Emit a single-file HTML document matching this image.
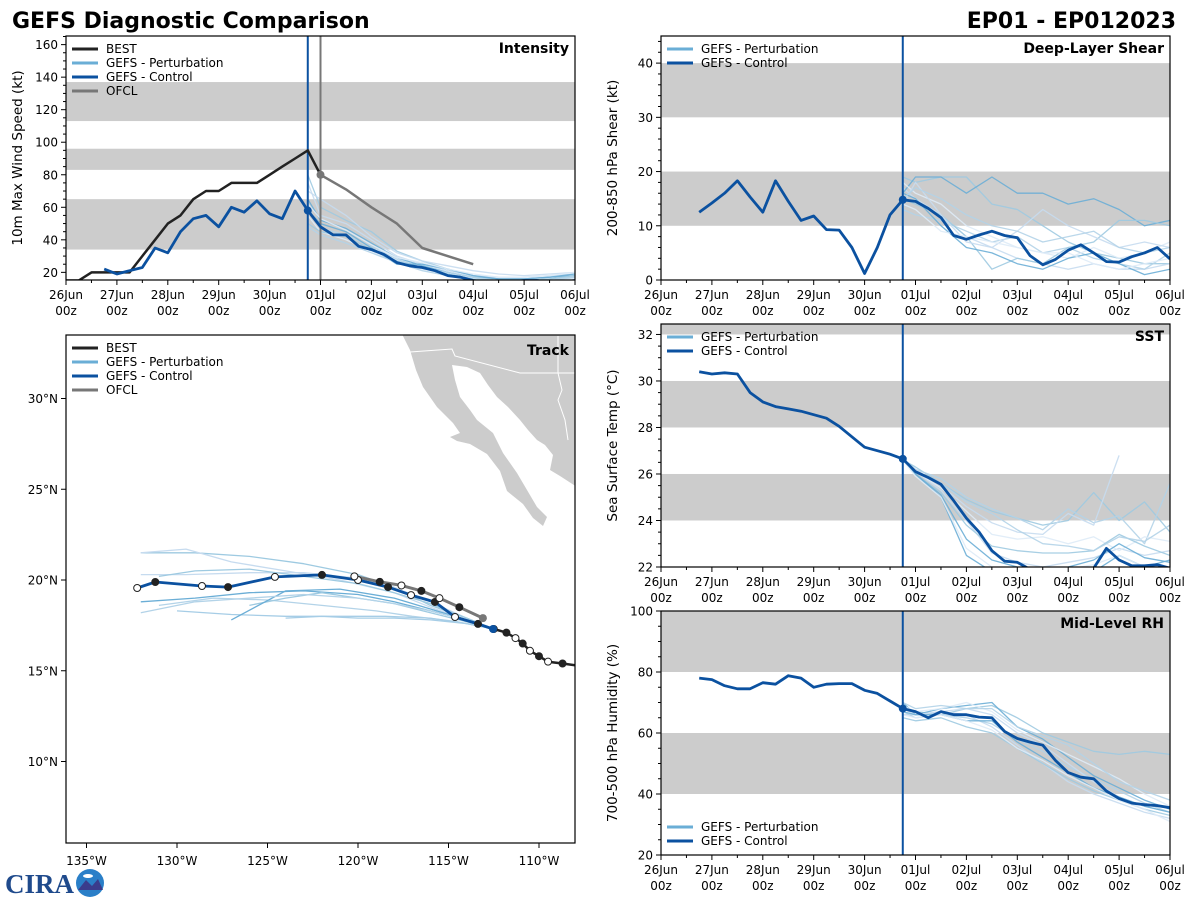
<!DOCTYPE html>
<html><head><meta charset="utf-8"><style>
html,body{margin:0;padding:0;background:#fff;}
svg{display:block;font-family:"DejaVu Sans","Liberation Sans",sans-serif;}
</style></head><body>
<svg id="fig" width="1200" height="900" viewBox="0 0 1200 900" xmlns="http://www.w3.org/2000/svg">
<text x="12" y="28" font-size="22" font-weight="bold">GEFS Diagnostic Comparison</text>
<text x="1176" y="28" font-size="22" font-weight="bold" text-anchor="end">EP01 - EP012023</text>
<g>
<text x="5" y="893" font-size="27" font-weight="bold" fill="#1f4a8c" font-family="Liberation Serif, serif">CIRA</text>
<circle cx="90" cy="883" r="14" fill="#2a7fc8"/>
<path d="M78,890 L86,880 L92,886 L98,879 L103,890 Z" fill="#3a3c8c"/>
<ellipse cx="88" cy="876" rx="5" ry="2" fill="#fff"/>
</g>
</svg>
<script>
const svg=document.getElementById('fig');
const NS='http://www.w3.org/2000/svg';
const BLUE='#0b51a0', LIGHT='#6aaed6', BEST='#222', OFCL='#777', BAND='#cccccc';
// ---------- DATA ----------
const dayLabels=['26Jun','27Jun','28Jun','29Jun','30Jun','01Jul','02Jul','03Jul','04Jul','05Jul','06Jul'];
const initHour=114;
const ofclInitHour=120;
const bestHours=[0,6,12,18,24,30,36,42,48,54,60,66,72,78,84,90,96,102,108,114,120];
const bestWind=[15,15,20,20,20,20,30,40,50,55,65,70,70,75,75,75,80,85,90,95,80];
const ctrlHours=[18,24,30,36,42,48,54,60,66,72,78,84,90,96,102,108,114,120,126,132,138,144,150,156,162,168,174,180,186,192,198,204,210,216,222,228,234,240];
const ctrlWind=[22,19,21,23,35,32,45,53,55,48,60,57,64,56,53,70,58,48,43,43,36,34,31,26,24,23,21,18,17,15,14,13,14,15,15,14,14,15];
const ofclHours=[120,132,144,156,168,192];
const ofclWind=[80,71,60,50,35,25];
const memHours=[114,120,132,144,156,168,180,192,204,216,228,240];
const windMembers=[
[80,60,52,45,33,27,22,18,16,15,15,16],
[75,55,50,40,30,25,21,18,17,17,18,19],
[65,52,47,38,29,24,20,17,16,16,17,18],
[60,47,43,36,28,23,20,17,15,15,16,17],
[55,45,40,33,26,22,19,16,15,15,15,16],
[50,45,42,34,27,23,19,16,15,15,16,18],
[70,65,55,42,32,27,24,21,19,18,19,20],
[58,50,45,35,25,25,22,18,16,16,17,19],
[48,43,38,32,26,21,18,15,14,14,15,17],
[62,53,46,37,29,26,22,19,17,17,18,20]];
const ctrlShear=[12.5,14.2,16,18.3,15.3,12.5,18.3,14.5,11,11.8,9.3,9.2,6,1.2,6,12,14.8,14.5,13.2,11.5,8.2,7.5,8.3,9.0,8.2,7.8,4.5,2.8,3.8,5.5,6.5,5,3.4,3.3,4.3,5,6,3.9];
const shearMembers=[
[19,18,19,19,14,13,10,7,5,4,3,3],
[17,15,12,8,6,4,3,2,3,2,2,3],
[16,19,19,16,19,16,16,14,15,13,10,11],
[13,12,11,9,7,8,5,6,4,3,2,5],
[18,16,14,10,8,6,5,4,6,4,5,7],
[15,14,12,8,2,4,3,6,7,11,11,10],
[14,18,12,7,6,9,13,10,8,6,7,6],
[16,15,10,6,5,3,2,4,5,3,1,2],
[15,17,15,12,10,9,7,8,9,6,5,6],
[14,13,9,8,7,6,5,5,3,2,3,4]];
const ctrlSST=[30.4,30.3,30.35,30.3,29.5,29.1,28.9,28.8,28.7,28.55,28.4,28.05,27.6,27.15,27.0,26.85,26.65,26.1,25.85,25.55,24.85,24.1,23.5,22.7,22.25,22.2,21.9,21.8,21.8,21.7,21.8,21.95,22.8,22.3,22.05,22.05,22.1,21.95];
const sstMembers=[
[26.6,26.3,25.6,24.9,24.4,24.1,23.8,24.0,25.2,24.0,24.8,23.5],
[26.6,26.1,25.3,24.0,22.6,22.2,22.0,22.2,22.4,22.8,22.5,22.7],
[26.6,26.0,25.0,22.5,21.8,21.5,21.5,21.5,21.8,22.5,22.0,22.3],
[26.6,26.2,25.8,25.0,24.5,24.1,23.6,24.5,23.9,24.2,23.0,25.6],
[26.6,26.1,25.4,24.4,23.4,23.2,23.3,23.0,23.3,22.7,23.3,23.1],
[26.6,26.0,25.2,23.8,22.9,22.7,22.6,22.6,22.7,23.4,22.9,22.5],
[26.6,26.2,25.5,24.6,23.9,23.5,23.4,24.3,23.8,26.8],
[26.6,26.0,25.1,23.2,22.3,22.0,21.8,22.0,22.3,23.0,22.4,22.2],
[26.6,26.1,25.6,24.8,24.3,23.6,23.0,22.9,22.7,23.3,23.1,23.8],
[26.6,25.9,25.0,22.8,22.0,21.8,21.7,21.9,22.1,22.5,22.0,22.0]];
const ctrlRH=[78,77.5,75.5,74.5,74.5,76.5,76,78.8,78,75,76,76.2,76.2,74,73,70.5,68,67,65,67,66,66,65.2,65,60.5,58.2,57,56,51,47,45.5,45,41,38.5,37,36.5,36.2,35.5];
const rhMembers=[
[68,67,66,68,69,65,60,57,54,53,54,53],
[66,66,67,66,62,56,50,44,40,37,34,32],
[70,66,68,69,70,62,58,52,46,42,38,35],
[67,65,66,65,63,58,54,49,45,41,37,34],
[69,67,68,70,67,61,57,53,49,45,40,36],
[65,64,65,62,60,55,50,45,41,38,35,33],
[68,66,67,68,66,60,56,50,44,39,36,34],
[67,66,66,64,64,57,52,47,42,39,36,34],
[70,68,69,68,68,62,59,56,50,44,41,38],
[66,65,66,64,61,55,51,46,42,38,35,31]];
// track (degrees W, degrees N)
const bestLon=[108.0,108.7,109.5,110.0,110.5,110.9,111.3,111.8,112.5];
const bestLat=[15.3,15.4,15.5,15.8,16.1,16.5,16.8,17.1,17.3];
const ctrlLon=[112.54,113.37,114.64,115.75,117.07,118.34,120.0,121.99,124.59,127.18,128.62,131.2,132.2];
const ctrlLat=[17.30,17.58,17.96,18.79,19.17,19.61,20.0,20.28,20.17,19.61,19.67,19.89,19.56];
const ofclLon=[113.1,114.4,115.5,116.5,117.6,118.8,120.2];
const ofclLat=[17.9,18.5,19.0,19.4,19.7,19.9,20.2];
const trackMemberLon=[
[112.5,114,116,118,120,123,126,129,132],
[112.5,114,116,118,121,124,127,129.5,132],
[112.5,114,116,118,120,123,126,129,132],
[112.5,114.5,117,119,122,125,128,131],
[112.5,114,116,118.5,121,124,127,130],
[112.5,114,116,118,120,122,124,126],
[112.5,114,116,118,120,123,126,129.5,132],
[112.5,114,116,118,121,124,127],
[112.5,114,116,118,120,123,126,129,132],
[112.5,114,116,118,120,122,124],
[112.5,114,116,118,120,123,126,129,131]];
const trackMemberLat=[
[17.3,17.9,18.6,19.6,20.3,20.9,21.3,21.5,21.5],
[17.3,17.8,18.5,19.3,20.0,20.5,21.0,21.7,21.5],
[17.3,17.8,18.3,18.8,19.2,19.4,19.3,19.0,18.8],
[17.3,17.7,18.0,18.3,18.6,18.9,19.0,18.6],
[17.3,17.6,17.9,18.0,18.0,18.0,18.1,18.3],
[17.3,17.7,18.2,18.7,19.0,19.3,19.0,18.6],
[17.3,17.9,18.8,19.6,20.1,20.4,20.4,20.3,20.3],
[17.3,17.8,18.4,19.0,19.5,19.4,17.8],
[17.3,17.8,18.3,18.7,19.0,19.2,19.0,18.8,18.2],
[17.3,17.6,17.8,17.9,17.9,18.0,17.9],
[17.3,17.9,18.7,19.3,19.8,20.2,20.6,20.5,20.2]];
const lonTicks=[135,130,125,120,115,110];
const latTicks=[30,25,20,15,10];

// ---------- helpers ----------
function el(tag,attrs,parent){const e=document.createElementNS(NS,tag);for(const k in attrs)e.setAttribute(k,attrs[k]);(parent||svg).appendChild(e);return e;}
function txt(s,attrs,parent){const e=el('text',attrs,parent);e.textContent=s;return e;}
let clipN=0;
function panel(cfg){
  const g=el('g',{});
  
  
  const X=h=>cfg.x0+h/240*(cfg.x1-cfg.x0);
  const Y=v=>cfg.y1-(v-cfg.ymin)/(cfg.ymax-cfg.ymin)*(cfg.y1-cfg.y0);
  const id='c'+(clipN++);
  const cp=el('clipPath',{id:id},g);
  el('rect',{x:cfg.x0,y:cfg.y0,width:cfg.x1-cfg.x0,height:cfg.y1-cfg.y0},cp);
  const pg=el('g',{'clip-path':'url(#'+id+')'},g);
  cfg.bands.forEach(b=>{const r=el('rect',{x:cfg.x0,y:Y(b[1]),width:cfg.x1-cfg.x0,height:Y(b[0])-Y(b[1]),fill:BAND},pg);
    });
  const line=(hs,vs,color,w,name,op)=>{const p=vs.map((v,i)=>X(hs[i]).toFixed(1)+','+Y(v).toFixed(1)).join(' ');
    const l=el('polyline',{points:p,fill:'none',stroke:color,'stroke-width':w,'stroke-linejoin':'round','stroke-opacity':op||1},pg);
    return l;};
  const shades=['#9ecae1','#c6dbef','#6baed6','#b3d3e8','#deebf7'];
  cfg.members.forEach((m,i)=>line(memHours.slice(0,m.length),m,shades[i%5],1.3,'perturbation-line',0.9));
  const vl=el('line',{x1:X(initHour),x2:X(initHour),y1:cfg.y0,y2:cfg.y1,stroke:BLUE,'stroke-width':2},pg);
  
  if(cfg.best){const gl=el('line',{x1:X(ofclInitHour),x2:X(ofclInitHour),y1:cfg.y0,y2:cfg.y1,stroke:OFCL,'stroke-width':2},pg);
    
    line(bestHours,cfg.best,BEST,2.5,'best-line');line(ofclHours,ofclWind,OFCL,2.5,'ofcl-line');
    const od=el('circle',{cx:X(ofclHours[0]),cy:Y(ofclWind[0]),r:4,fill:OFCL},pg);
    }
  line(ctrlHours,cfg.ctrl,BLUE,2.8,'control-line');
  const ci=ctrlHours.indexOf(initHour);
  const cd=el('circle',{cx:X(initHour),cy:Y(cfg.ctrl[ci]),r:4,fill:BLUE},pg);
  
  const fr=el('rect',{x:cfg.x0,y:cfg.y0,width:cfg.x1-cfg.x0,height:cfg.y1-cfg.y0,fill:'none',stroke:'#000','stroke-width':1.2},g);
  
  for(let h=0;h<=240;h+=12){const major=h%24==0;el('line',{x1:X(h),x2:X(h),y1:cfg.y1,y2:cfg.y1+(major?5:3),stroke:'#000'},g);}
  dayLabels.forEach((d,i)=>{const t=txt(d,{x:X(i*24),y:cfg.y1+19,'font-size':12,'text-anchor':'middle'},g);
    
    txt('00z',{x:X(i*24),y:cfg.y1+35,'font-size':12,'text-anchor':'middle'},g);});
  for(let v=Math.ceil(cfg.ymin/cfg.minor)*cfg.minor;v<=cfg.ymax+1e-6;v+=cfg.minor){const major=Math.abs(v/cfg.major-Math.round(v/cfg.major))<1e-6;
    el('line',{x1:cfg.x0,x2:cfg.x0-(major?5:3),y1:Y(v),y2:Y(v),stroke:'#000'},g);
    if(major){const t=txt(String(Math.round(v)),{x:cfg.x0-8,y:Y(v)+4.5,'font-size':12,'text-anchor':'end'},g);
      }}
  const yt=txt(cfg.ylabel,{x:0,y:0,'font-size':13.5,'text-anchor':'middle',transform:'translate('+(cfg.x0-44)+','+((cfg.y0+cfg.y1)/2)+') rotate(-90)'},g);
  
  const tt=txt(cfg.title,{x:cfg.x1-6,y:cfg.y0+17,'font-size':14,'font-weight':'bold','text-anchor':'end'},g);
  
  legend(g,cfg.x0,cfg.legY,cfg.best?4:2);
}
function legend(g,x0,y,n){
  const items=[['BEST',BEST],['GEFS - Perturbation',LIGHT],['GEFS - Control',BLUE],['OFCL',OFCL]];
  const use=n==4?items:items.slice(1,3);
  const lg=el('g',{},g);
  
  use.forEach((it,i)=>{const yy=y+i*14;
    el('line',{x1:x0+6,x2:x0+32,y1:yy,y2:yy,stroke:it[1],'stroke-width':3},lg);
    const t=txt(it[0],{x:x0+40,y:yy+4,'font-size':12},lg);
    });
}
panel({name:'intensity-panel',x0:66,x1:575,y0:36,y1:280,ymin:15.3,ymax:165.3,major:20,minor:5,
  bands:[[34,65],[83,96],[113,137]],members:windMembers,ctrl:ctrlWind,best:bestWind,
  ylabel:'10m Max Wind Speed (kt)',title:'Intensity',legY:49});
panel({name:'shear-panel',x0:661,x1:1170,y0:36,y1:280,ymin:0,ymax:45,major:10,minor:2,
  bands:[[10,20],[30,40]],members:shearMembers,ctrl:ctrlShear,
  ylabel:'200-850 hPa Shear (kt)',title:'Deep-Layer Shear',legY:49});
panel({name:'sst-panel',x0:661,x1:1170,y0:324,y1:567,ymin:22,ymax:32.45,major:2,minor:0.5,
  bands:[[24,26],[28,30],[32,34]],members:sstMembers,ctrl:ctrlSST,
  ylabel:'Sea Surface Temp (°C)',title:'SST',legY:337});
panel({name:'rh-panel',x0:661,x1:1170,y0:611,y1:855,ymin:20,ymax:100,major:20,minor:5,
  bands:[[40,60],[80,100]],members:rhMembers,ctrl:ctrlRH,
  ylabel:'700-500 hPa Humidity (%)',title:'Mid-Level RH',legY:827});

// ---------- track map ----------
(function(){
  const x0=66,x1=575,y0=335,y1=843;
  const LX=lon=>539-(lon-110)*18.1;
  const LY=lat=>580-(lat-20)*18.15;
  const g=el('g',{});
  
  const cp=el('clipPath',{id:'tc'},g);el('rect',{x:x0,y:y0,width:x1-x0,height:y1-y0},cp);
  const pg=el('g',{'clip-path':'url(#tc)'},g);
  const land=el('polygon',{fill:'#cccccc',points:'400,330 580,330 580,489 560,476 550,470 553,455 545,445 537,440 528,430 520,420 508,407 497,397 488,385 480,373 467,367 452,365 455,380 460,397 470,410 477,420 493,433 503,453 517,473 527,490 537,507 547,517 543,526 533,518 523,504 507,491 500,471 487,454 470,444 457,441 450,437 460,433 453,423 437,407 423,387 416,370 410,350'},pg);
  
  const b=el('polyline',{points:'410,352 452,349 455,356 520,373 575,373',fill:'none',stroke:'#fff','stroke-width':1},pg);
  
  el('polyline',{points:'558,336 558,373 562,390 558,400 565,420 568,440',fill:'none',stroke:'#fff','stroke-width':1},pg);
  const shades=['#9ecae1','#c6dbef','#6baed6','#b3d3e8','#a6cde6'];
  const poly=(lons,lats,c,w,name)=>{const l=el('polyline',{points:lons.map((v,i)=>LX(v).toFixed(1)+','+LY(lats[i]).toFixed(1)).join(' '),fill:'none',stroke:c,'stroke-width':w,'stroke-linejoin':'round'},pg);
    };
  trackMemberLon.forEach((m,i)=>poly(m,trackMemberLat[i],shades[i%5],1.3,'perturbation-track'));
  poly(ofclLon,ofclLat,OFCL,3,'ofcl-track');
  poly(ctrlLon,ctrlLat,BLUE,2.8,'control-track');
  poly(bestLon,bestLat,BEST,2.5,'best-track');
  const mk=(lons,lats,start,name)=>lons.forEach((v,i)=>{if(i<start)return;const open=(i%2==0);
    const c=el('circle',{cx:LX(v),cy:LY(lats[i]),r:3.5,fill:open?'#fff':'#222',stroke:'#222','stroke-width':1},pg);
    });
  mk(ctrlLon,ctrlLat,1,'control-track-marker');
  mk(ofclLon,ofclLat,1,'ofcl-track-marker');
  mk(bestLon,bestLat,1,'best-track-marker');
  const c0=el('circle',{cx:LX(ctrlLon[0]),cy:LY(ctrlLat[0]),r:4,fill:BLUE},pg);
  
  const o0=el('circle',{cx:LX(ofclLon[0]),cy:LY(ofclLat[0]),r:4,fill:OFCL},pg);
  
  const fr=el('rect',{x:x0,y:y0,width:x1-x0,height:y1-y0,fill:'none',stroke:'#000','stroke-width':1.2},g);
  
  lonTicks.forEach(v=>{el('line',{x1:LX(v),x2:LX(v),y1:y1,y2:y1+5,stroke:'#000'},g);
    const t=txt(v+'°W',{x:LX(v),y:y1+22,'font-size':12,'text-anchor':'middle'},g);
    });
  latTicks.forEach(v=>{el('line',{x1:x0,x2:x0-5,y1:LY(v),y2:LY(v),stroke:'#000'},g);
    const t=txt(v+'°N',{x:x0-8,y:LY(v)+4.5,'font-size':12,'text-anchor':'end'},g);
    });
  const tt=txt('Track',{x:x1-6,y:y0+20,'font-size':14,'font-weight':'bold','text-anchor':'end'},g);
  
  legend(g,x0,348,4);
})();
</script>
</body></html>
